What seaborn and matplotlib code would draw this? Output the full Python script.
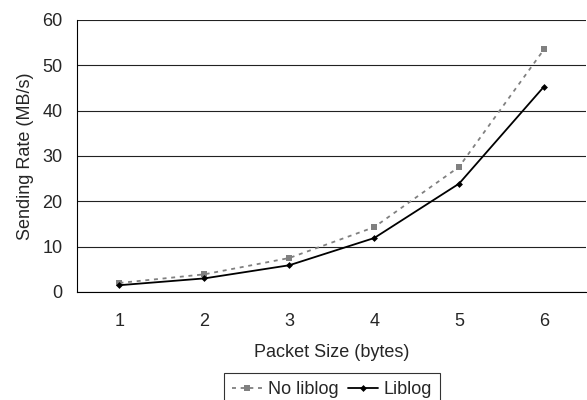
import numpy as np
import matplotlib
matplotlib.use("Agg")
import matplotlib.pyplot as plt
import seaborn as sns

# Data
packet_sizes = [1, 2, 3, 4, 5, 6]
no_liblog = [2.0, 3.9, 7.5, 14.3, 27.6, 53.5]
liblog = [1.5, 3.0, 5.9, 11.9, 23.9, 45.3]

sns.set_style("white")
plt.rcParams['font.family'] = ['Liberation Sans', 'DejaVu Sans']

fig = plt.figure(figsize=(5.87, 4.0), dpi=100)
ax = fig.add_axes([77 / 587, 1 - 292 / 400, 1 - 77 / 587 - 0.001, (292 - 20) / 400])

sns.lineplot(x=packet_sizes, y=no_liblog, ax=ax, color="#808080", linestyle=(0, (2.2, 2.6)),
             linewidth=1.3, marker="s", markersize=5, markeredgewidth=0, label="No liblog")
sns.lineplot(x=packet_sizes, y=liblog, ax=ax, color="black", linestyle="-",
             linewidth=1.3, marker="D", markersize=3.5, markeredgewidth=0, label="Liblog")

ax.set_xlim(0.5, 6.5)
ax.set_ylim(0, 60)
ax.set_yticks(np.arange(0, 61, 10))
ax.set_xticks(packet_sizes)
ax.set_xticks(np.arange(0.5, 6.6, 1), minor=True)
ax.tick_params(axis='x', which='major', length=0, labelsize=13, pad=15)
ax.tick_params(axis='x', which='minor', length=4.5, width=0.8, color='black', direction='out')
ax.tick_params(axis='y', which='major', length=4.5, width=0.8, color='black', direction='out',
               labelsize=13, pad=6)
ax.yaxis.grid(True, color="#222222", linewidth=0.8)
ax.xaxis.grid(False)
ax.set_axisbelow(True)

for s in ['top', 'right']:
    ax.spines[s].set_visible(False)
for s in ['left', 'bottom']:
    ax.spines[s].set_color('black')
    ax.spines[s].set_linewidth(0.8)

ax.set_xlabel("Packet Size (bytes)", fontsize=13, labelpad=10)
ax.set_ylabel("Sending Rate (MB/s)", fontsize=13, labelpad=6)

ax.get_legend().remove()
handles, labels = ax.get_legend_handles_labels()
leg = fig.legend(handles, labels, loc='upper center', bbox_to_anchor=(332 / 587, 1 - 373 / 400), ncol=2,
                 frameon=True, fancybox=False, fontsize=13, handlelength=1.7, handletextpad=0.3,
                 columnspacing=0.5, borderpad=0.45, borderaxespad=0)
leg.get_frame().set_edgecolor('black')
leg.get_frame().set_linewidth(0.8)

fig.savefig("out.png", dpi=100)
